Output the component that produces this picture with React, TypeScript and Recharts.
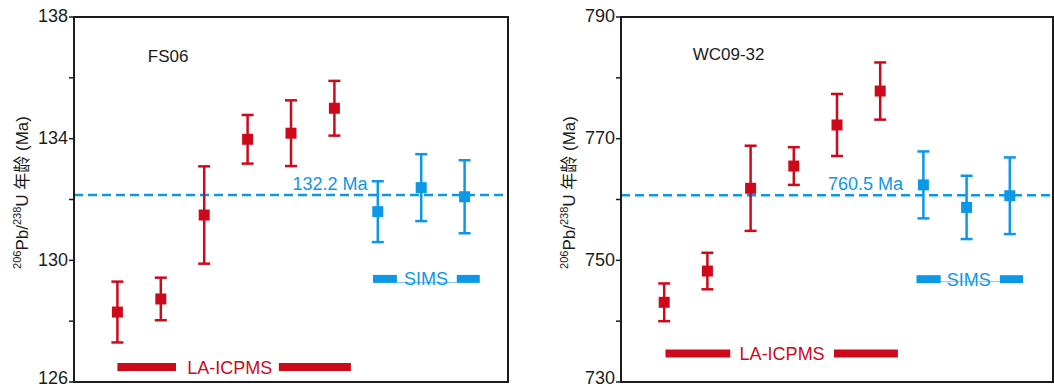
import React from 'react';
import {
  ScatterChart,
  Scatter,
  XAxis,
  YAxis,
  ErrorBar,
  ReferenceLine,
  ReferenceDot,
  ReferenceArea,
} from 'recharts';

// ---------- data ----------
const sampleNames = ['FS06', 'WC09-32'];
const methodNames = ['LA-ICPMS', 'SIMS'];
const laPositions = [1, 2, 3, 4, 5, 6];
const simsPositions = [7, 8, 9];

const fsLaAge = [128.3, 128.73, 131.49, 133.98, 134.18, 135.0];
const fsLaErr = [1.0, 0.7, 1.6, 0.8, 1.08, 0.9];
const fsSimsAge = [131.6, 132.39, 132.09];
const fsSimsErr = [1.0, 1.1, 1.2];
const fsMean = 132.15;
const fsMeanLabel = '132.2 Ma';
const fsTicks = [126, 128, 130, 132, 134, 136, 138];
const fsMajorTicks = [126, 130, 134, 138];

const wcLaAge = [743.1, 748.24, 761.84, 765.5, 772.25, 777.83];
const wcLaErr = [3.1, 3.0, 7.0, 3.1, 5.1, 4.7];
const wcSimsAge = [762.4, 758.7, 760.62];
const wcSimsErr = [5.5, 5.2, 6.3];
const wcMean = 760.7;
const wcMeanLabel = '760.5 Ma';
const wcTicks = [730, 740, 750, 760, 770, 780, 790];
const wcMajorTicks = [730, 750, 770, 790];

// ---------- style ----------
const RED = '#cd0a1b';
const BLUE = '#0c98e6';
const LIGHT_BLUE = '#86ccf2';
const INK = '#1c1c1c';
const FONT = '"Liberation Sans", Arial, "Noto Sans CJK SC", sans-serif';

const toPoints = (xs: number[], ys: number[], es: number[]) =>
  xs.map((x, i) => ({ x, y: ys[i], err: es[i] }));

const squareShape = (color: string) => (p: any) => (
  <rect x={p.cx - 5.5} y={p.cy - 5.5} width={11} height={11} fill={color} />
);

const makeTick = (major: number[]) => (props: any) => {
  const { x, y, payload } = props;
  if (!major.includes(payload.value)) return <g />;
  const isBottom = payload.value === major[0];
  return (
    <text
      x={x}
      y={isBottom ? Math.min(y, 379) : y}
      dy="0.3em"
      textAnchor="end"
      fontSize={18}
      fill={INK}
      fontFamily={FONT}
    >
      {payload.value}
    </text>
  );
};

const textShape = (txt: string, color: string, size: number) => (p: any) => (
  <text x={p.cx} y={p.cy} dy="0.36em" textAnchor="middle" fontSize={size} fill={color} fontFamily={FONT}>
    {txt}
  </text>
);

const AxisTitle = (props: any) => {
  const vb = props.viewBox || { x: 0, y: 17, width: 0, height: 365 };
  const bx = props.baseX;
  const cy = vb.y + vb.height / 2 - 7;
  return (
    <text
      transform={`translate(${bx},${cy}) rotate(-90)`}
      textAnchor="middle"
      fontSize={17}
      fill={INK}
      fontFamily={FONT}
    >
      <tspan fontSize={11} dy={-7}>206</tspan>
      <tspan dy={7}>Pb/</tspan>
      <tspan fontSize={11} dy={-7}>238</tspan>
      <tspan dy={7}>U 年龄 (Ma)</tspan>
    </text>
  );
};

type PanelProps = {
  left: number;
  width: number;
  yAxisWidth: number;
  marginRight: number;
  titleX: number;
  domain: [number, number];
  ticks: number[];
  major: number[];
  laAge: number[];
  laErr: number[];
  simsAge: number[];
  simsErr: number[];
  mean: number;
  meanLabel: string;
  meanLabelPos: [number, number];
  name: string;
  namePos: [number, number];
  laY: number;
  laBars: [number, number, number, number];
  laTextX: number;
  simsY: number;
  simsLineY: number;
  simsBars: [number, number, number, number];
  simsTextX: number;
};

const Panel = (P: PanelProps) => {
  const laData = toPoints(laPositions, P.laAge, P.laErr);
  const simsData = toPoints(simsPositions, P.simsAge, P.simsErr);
  return (
    <div style={{ position: 'absolute', left: P.left, top: 0 }}>
      <ScatterChart
        width={P.width}
        height={389}
        margin={{ top: 17, right: P.marginRight, bottom: 7, left: 0 }}
      >
        <XAxis type="number" dataKey="x" domain={[0, 10]} hide />
        <YAxis
          type="number"
          dataKey="y"
          domain={P.domain}
          ticks={P.ticks}
          interval={0}
          width={P.yAxisWidth}
          tickSize={5}
          tickMargin={1}
          axisLine={{ stroke: INK, strokeWidth: 2 }}
          tickLine={{ stroke: INK, strokeWidth: 1.5 }}
          tick={makeTick(P.major)}
          allowDataOverflow
          label={{ content: (lp: any) => <AxisTitle {...lp} baseX={P.titleX} /> }}
        />
        <ReferenceArea
          x1={0}
          x2={10}
          y1={P.domain[0]}
          y2={P.domain[1]}
          fill="none"
          stroke={INK}
          strokeWidth={2}
          ifOverflow="visible"
        />
        <ReferenceLine
          y={P.mean}
          stroke={BLUE}
          strokeWidth={2.5}
          strokeDasharray="9 5"
        />
        {/* LA-ICPMS legend */}
        <ReferenceLine
          segment={[{ x: P.laBars[0], y: P.laY }, { x: P.laBars[1], y: P.laY }]}
          stroke={RED}
          strokeWidth={8}
          ifOverflow="visible"
        />
        <ReferenceLine
          segment={[{ x: P.laBars[2], y: P.laY }, { x: P.laBars[3], y: P.laY }]}
          stroke={RED}
          strokeWidth={8}
          ifOverflow="visible"
        />
        <ReferenceDot x={P.laTextX} y={P.laY} r={0} ifOverflow="visible" shape={textShape(methodNames[0], RED, 18)} />
        {/* SIMS legend */}
        <ReferenceLine
          segment={[{ x: P.simsBars[1], y: P.simsLineY }, { x: P.simsBars[2], y: P.simsLineY }]}
          stroke={LIGHT_BLUE}
          strokeWidth={1}
          ifOverflow="visible"
        />
        <ReferenceLine
          segment={[{ x: P.simsBars[0], y: P.simsY }, { x: P.simsBars[1], y: P.simsY }]}
          stroke={BLUE}
          strokeWidth={8}
          ifOverflow="visible"
        />
        <ReferenceLine
          segment={[{ x: P.simsBars[2], y: P.simsY }, { x: P.simsBars[3], y: P.simsY }]}
          stroke={BLUE}
          strokeWidth={8}
          ifOverflow="visible"
        />
        <ReferenceDot x={P.simsTextX} y={P.simsY} r={0} ifOverflow="visible" shape={textShape(methodNames[1], BLUE, 18)} />
        {/* annotations */}
        <ReferenceDot x={P.meanLabelPos[0]} y={P.meanLabelPos[1]} r={0} ifOverflow="visible" shape={textShape(P.meanLabel, BLUE, 18)} />
        <ReferenceDot x={P.namePos[0]} y={P.namePos[1]} r={0} ifOverflow="visible" shape={textShape(P.name, INK, 17)} />
        <Scatter data={laData} isAnimationActive={false} shape={squareShape(RED)}>
          <ErrorBar dataKey="err" direction="y" width={6} strokeWidth={2.5} stroke={RED} />
        </Scatter>
        <Scatter data={simsData} isAnimationActive={false} shape={squareShape(BLUE)}>
          <ErrorBar dataKey="err" direction="y" width={6} strokeWidth={2.5} stroke={BLUE} />
        </Scatter>
      </ScatterChart>
    </div>
  );
};

export default function App() {
  return (
    <div style={{ position: 'absolute', left: 0, top: 0, width: 1054, height: 389, background: '#fff' }}>
      <Panel
        left={0}
        width={530}
        yAxisWidth={74}
        marginRight={22}
        titleX={28}
        domain={[126, 138]}
        ticks={fsTicks}
        major={fsMajorTicks}
        laAge={fsLaAge}
        laErr={fsLaErr}
        simsAge={fsSimsAge}
        simsErr={fsSimsErr}
        mean={fsMean}
        meanLabel={fsMeanLabel}
        meanLabelPos={[5.9, 132.51]}
        name={sampleNames[0]}
        namePos={[2.17, 136.72]}
        laY={126.49}
        laBars={[1.0, 2.35, 4.72, 6.38]}
        laTextX={3.59}
        simsY={129.39}
        simsLineY={129.27}
        simsBars={[6.89, 7.44, 8.82, 9.35]}
        simsTextX={8.11}
      />
      <Panel
        left={530}
        width={524}
        yAxisWidth={91}
        marginRight={1}
        titleX={45}
        domain={[730, 790]}
        ticks={wcTicks}
        major={wcMajorTicks}
        laAge={wcLaAge}
        laErr={wcLaErr}
        simsAge={wcSimsAge}
        simsErr={wcSimsErr}
        mean={wcMean}
        meanLabel={wcMeanLabel}
        meanLabelPos={[5.66, 762.55]}
        name={sampleNames[1]}
        namePos={[2.49, 783.9]}
        laY={734.7}
        laBars={[1.03, 2.53, 4.93, 6.41]}
        laTextX={3.73}
        simsY={746.9}
        simsLineY={746.49}
        simsBars={[6.84, 7.4, 8.77, 9.31]}
        simsTextX={8.05}
      />
    </div>
  );
}
